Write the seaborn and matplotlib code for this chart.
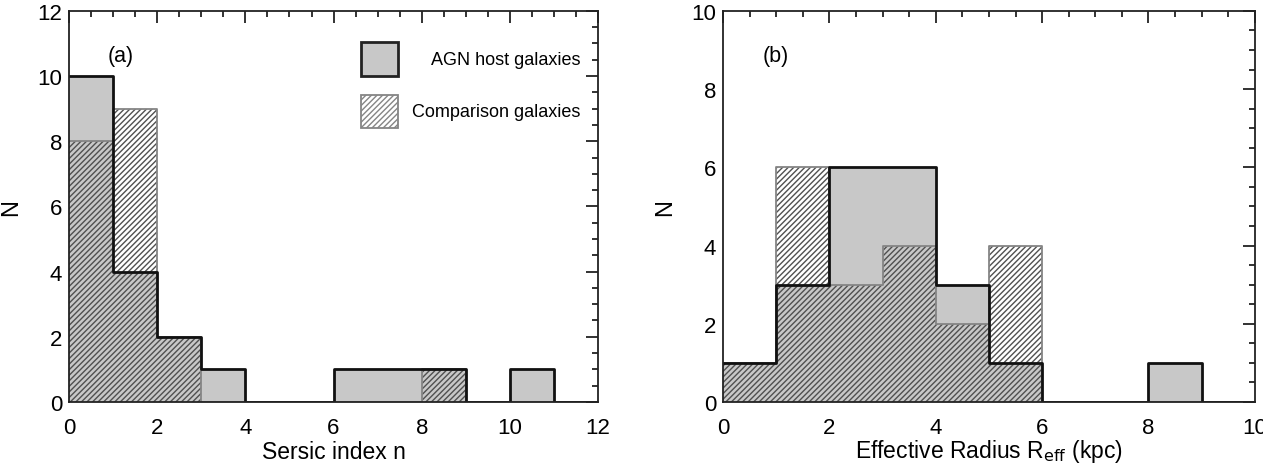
import numpy as np
import matplotlib
matplotlib.use('Agg')
import matplotlib.pyplot as plt
import matplotlib.patches as mpatches
from matplotlib.ticker import MultipleLocator
import pandas as pd
import seaborn as sns

# Sersic index histogram (bin width 1)
sersic_edges = [0, 1, 2, 3, 4, 5, 6, 7, 8, 9, 10, 11, 12]
sersic_agn = [10, 4, 2, 1, 0, 0, 1, 1, 1, 0, 1, 0]
sersic_comp = [8, 9, 2, 0, 0, 0, 0, 0, 1, 0, 0, 0]

# Effective radius histogram (kpc, bin width 1)
reff_edges = [0, 1, 2, 3, 4, 5, 6, 7, 8, 9, 10]
reff_agn = [1, 3, 6, 6, 3, 1, 0, 0, 1, 0]
reff_comp = [1, 6, 3, 4, 2, 4, 0, 0, 0, 0]

sns.set_theme(style='white')
plt.rcParams['font.family'] = ['Liberation Sans', 'DejaVu Sans']
plt.rcParams['hatch.linewidth'] = 1.0
plt.rcParams['text.color'] = 'black'
plt.rcParams['axes.labelcolor'] = 'black'
plt.rcParams['xtick.color'] = 'black'
plt.rcParams['ytick.color'] = 'black'

fill_gray = '#c8c8c8'
comp_edge = '#858585'
hatch_col = '#505050'


def draw_panel(ax, edges, agn, comp):
    e = np.array(edges, dtype=float)
    centers = (e[:-1] + e[1:]) / 2
    df = pd.DataFrame({'x': centers, 'agn': agn, 'comp': comp})
    bins = list(edges)
    # AGN grey fill
    sns.histplot(data=df, x='x', weights='agn', bins=bins, element='step',
                 fill=True, color=fill_gray, alpha=1, linewidth=0, ax=ax)
    # comparison hatched
    sns.histplot(data=df, x='x', weights='comp', bins=bins, element='step',
                 fill=True, alpha=1, ax=ax, color=comp_edge)
    poly = ax.collections[-1]
    poly.set_facecolor('none')
    poly.set_edgecolor(hatch_col)
    poly.set_hatch('//////')
    poly.set_linewidth(0)
    sns.histplot(data=df, x='x', weights='comp', bins=bins, element='step',
                 fill=False, color=comp_edge, linewidth=1.3, ax=ax)
    # AGN outline
    sns.histplot(data=df, x='x', weights='agn', bins=bins, element='step',
                 fill=False, color='#111111', linewidth=2.0, ax=ax)


fig = plt.figure(figsize=(12.63, 4.64), dpi=100)
ax1 = fig.add_axes([0.0546, 0.1315, 0.419, 0.843])
ax2 = fig.add_axes([0.5725, 0.1315, 0.421, 0.843])

draw_panel(ax1, sersic_edges, sersic_agn, sersic_comp)
draw_panel(ax2, reff_edges, reff_agn, reff_comp)

ax1.set_xlim(0, 12)
ax1.set_ylim(0, 12)
ax2.set_xlim(0, 10)
ax2.set_ylim(0, 10)

ax1.set_xlabel('Sersic index n', fontsize=16.5, labelpad=1)
ax2.set_xlabel(r'Effective Radius R$_{\mathrm{eff}}$ (kpc)', fontsize=16.5, labelpad=-1)
for ax in (ax1, ax2):
    ax.set_ylabel('N', fontsize=17, labelpad=11)
    ax.xaxis.set_major_locator(MultipleLocator(2))
    ax.xaxis.set_minor_locator(MultipleLocator(0.5))
    ax.yaxis.set_major_locator(MultipleLocator(2))
    ax.yaxis.set_minor_locator(MultipleLocator(0.5))
    ax.tick_params(which='both', direction='in', top=True, right=True,
                   labelsize=16, width=1.3, color='#222222')
    ax.tick_params(which='major', length=8.5)
    ax.tick_params(which='minor', length=4.3)
    ax.tick_params(axis='x', which='major', pad=11)
    ax.tick_params(axis='y', which='major', pad=5)
    for sp in ax.spines.values():
        sp.set_color('#222222')
        sp.set_linewidth(1.3)

ax1.text(0.074, 0.887, '(a)', transform=ax1.transAxes, fontsize=15.5, va='center')
ax2.text(0.075, 0.887, '(b)', transform=ax2.transAxes, fontsize=15.5, va='center')

# legend drawn by hand (right-aligned labels as in the original)
ax1.add_patch(mpatches.Rectangle((0.552, 0.834), 0.070, 0.087, transform=ax1.transAxes,
                                 facecolor=fill_gray, edgecolor='#222222', linewidth=2.0))
ax1.add_patch(mpatches.Rectangle((0.552, 0.701), 0.070, 0.084, transform=ax1.transAxes,
                                 facecolor='white', edgecolor=comp_edge, linewidth=1.3,
                                 hatch='//////'))
ax1.text(0.966, 0.875, 'AGN host galaxies', transform=ax1.transAxes,
         fontsize=13, ha='right', va='center')
ax1.text(0.966, 0.742, 'Comparison galaxies', transform=ax1.transAxes,
         fontsize=13, ha='right', va='center')

fig.savefig('out.png', dpi=100)
